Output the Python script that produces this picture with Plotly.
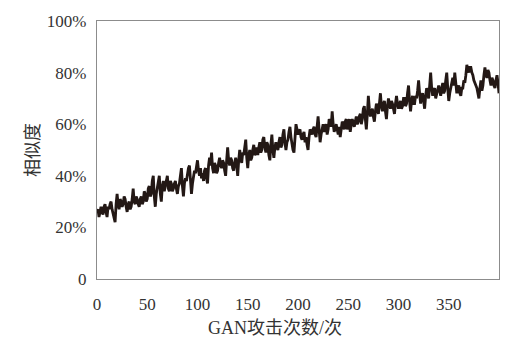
import plotly.graph_objects as go

# GAN attack count (x) and similarity (%)
attack_counts = list(range(0, 401))
similarity_pct = [
    26, 27, 24, 26, 28, 26, 25, 28, 29, 26, 24, 28, 27, 29, 30, 27, 25, 24, 22, 29,
    33, 29, 27, 31, 30, 28, 29, 32, 31, 28, 26, 29, 30, 27, 28, 31, 35, 30, 29, 32,
    31, 29, 28, 31, 32, 29, 30, 34, 33, 30, 31, 35, 36, 32, 33, 38, 40, 32, 28, 33,
    35, 38, 40, 33, 30, 36, 38, 34, 36, 39, 40, 35, 34, 38, 37, 34, 35, 37, 38, 35,
    33, 36, 37, 40, 43, 36, 32, 37, 39, 38, 41, 43, 44, 37, 33, 37, 39, 42, 41, 44,
    46, 42, 40, 43, 39, 41, 38, 42, 43, 39, 37, 44, 47, 44, 49, 43, 41, 45, 44, 41,
    42, 45, 47, 44, 43, 46, 45, 42, 40, 46, 51, 46, 44, 47, 46, 43, 42, 45, 47, 44,
    40, 46, 50, 47, 45, 49, 48, 51, 54, 47, 43, 48, 50, 46, 47, 50, 52, 48, 49, 51,
    48, 51, 53, 49, 50, 54, 55, 51, 49, 53, 52, 48, 46, 52, 56, 50, 47, 51, 53, 51,
    50, 53, 55, 51, 52, 56, 58, 53, 50, 53, 54, 57, 59, 55, 52, 50, 49, 55, 60, 58,
    56, 57, 58, 55, 54, 56, 57, 53, 55, 52, 50, 55, 58, 57, 56, 58, 59, 56, 55, 59,
    63, 58, 53, 56, 58, 60, 57, 59, 60, 56, 58, 62, 61, 59, 65, 60, 57, 59, 60, 58,
    56, 59, 55, 58, 61, 60, 58, 61, 62, 58, 59, 62, 57, 60, 62, 60, 59, 61, 63, 60,
    61, 63, 64, 60, 62, 66, 67, 62, 58, 64, 71, 66, 63, 65, 66, 63, 61, 65, 68, 66,
    64, 68, 72, 67, 65, 68, 69, 65, 62, 67, 70, 68, 66, 69, 68, 66, 64, 68, 71, 68,
    66, 68, 69, 66, 67, 70, 70, 67, 68, 72, 75, 69, 65, 69, 71, 68, 68, 71, 70, 73,
    77, 72, 68, 71, 72, 69, 66, 71, 74, 72, 70, 75, 80, 74, 71, 73, 74, 70, 72, 74,
    75, 73, 71, 74, 76, 72, 73, 77, 80, 74, 69, 72, 74, 76, 78, 75, 80, 76, 72, 74,
    75, 72, 71, 74, 74, 77, 76, 79, 83, 81, 80, 82, 82, 80, 79, 77, 76, 75, 74, 72,
    70, 74, 77, 73, 75, 79, 82, 79, 78, 81, 80, 77, 75, 78, 77, 75, 74, 77, 79, 76,
    72,
]
assert len(similarity_pct) == len(attack_counts)

x_tick_vals = [0, 50, 100, 150, 200, 250, 300, 350]
y_tick_vals = [0, 20, 40, 60, 80, 100]
y_tick_text = ["0", "20%", "40%", "60%", "80%", "100%"]
x_title = "GAN攻击次数/次"
y_title = "相似度"

serif = "Liberation Serif, Times New Roman, serif"
cjk = "Liberation Serif, Noto Sans CJK SC, serif"
ink = "#231815"
text_col = "#333333"

fig = go.Figure(
    go.Scatter(
        x=attack_counts,
        y=similarity_pct,
        mode="lines",
        line=dict(color=ink, width=2.8),
        showlegend=False,
        hoverinfo="skip",
    )
)

fig.update_layout(
    width=529,
    height=359,
    margin=dict(l=97, r=30, t=13, b=80),
    paper_bgcolor="white",
    plot_bgcolor="white",
    font=dict(family=serif, size=17, color=text_col),
)
fig.update_xaxes(
    range=[0, 400],
    tickvals=x_tick_vals,
    showgrid=False,
    zeroline=False,
    showline=True,
    mirror=True,
    linecolor="#8c8c8c",
    linewidth=1.2,
    ticks="",
    ticklabelstandoff=9,
    tickfont=dict(family=serif, size=17, color=text_col),
)
fig.update_yaxes(
    range=[0, 100],
    tickvals=y_tick_vals,
    ticktext=y_tick_text,
    showgrid=False,
    zeroline=False,
    showline=True,
    mirror=True,
    linecolor="#8c8c8c",
    linewidth=1.2,
    ticks="",
    ticklabelstandoff=6,
    ticklabeloverflow="allow",
    tickfont=dict(family=serif, size=17, color=text_col),
)
fig.add_annotation(
    text=x_title, xref="paper", yref="paper", x=0.443, y=-0.19,
    xanchor="center", yanchor="middle", showarrow=False,
    font=dict(family=cjk, size=18, color=text_col),
)
fig.add_annotation(
    text=y_title, xref="paper", yref="paper", x=-0.159, y=0.5,
    xanchor="center", yanchor="middle", showarrow=False, textangle=-90,
    font=dict(family=cjk, size=18, color=text_col),
)

# remove the page's default 8px body margin so the figure sits at the window origin
fig.write_html(
    "out.html",
    config={"displayModeBar": False},
    post_script="document.body.style.margin='0';document.body.style.overflow='hidden';",
)
